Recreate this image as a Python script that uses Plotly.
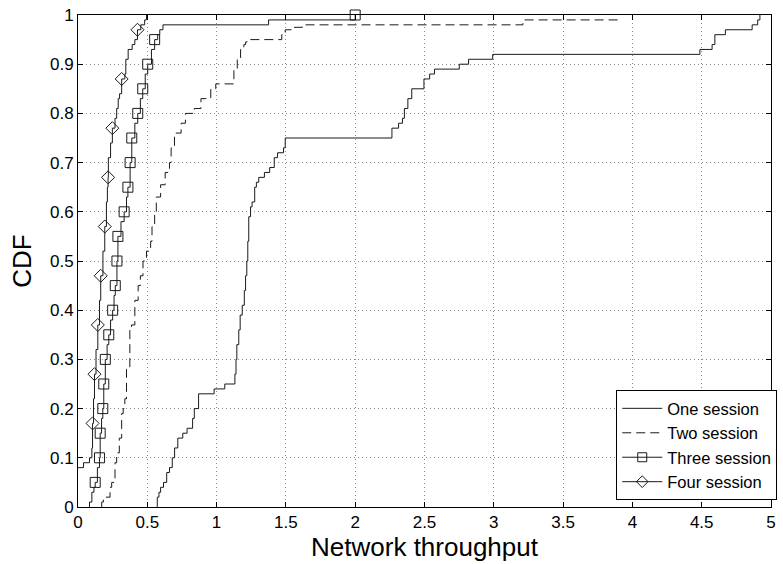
import plotly.graph_objects as go

# ---- data ----
one_x = [0.572, 0.572, 0.584, 0.596, 0.617, 0.64, 0.66, 0.68, 0.697, 0.72, 0.756, 0.787, 0.827, 0.839, 0.87,
         0.982, 1.059, 1.132, 1.14, 1.146, 1.16, 1.17, 1.185, 1.20, 1.209, 1.218, 1.225, 1.232, 1.245, 1.256,
         1.275, 1.287, 1.304, 1.345, 1.383, 1.416, 1.44, 1.483, 1.495, 2.265, 2.313, 2.341, 2.355, 2.38, 2.408,
         2.496, 2.537, 2.572, 2.751, 2.818, 2.992, 4.487, 4.575, 4.595, 4.671, 4.864, 4.904, 4.92]
one_y = [0, 0.02, 0.03, 0.04, 0.05, 0.07, 0.08, 0.10, 0.12, 0.14, 0.15, 0.16, 0.18, 0.20, 0.23,
         0.24, 0.25, 0.27, 0.30, 0.33, 0.36, 0.39, 0.41, 0.44, 0.47, 0.50, 0.54, 0.59, 0.61, 0.62,
         0.65, 0.66, 0.67, 0.68, 0.69, 0.71, 0.72, 0.73, 0.75, 0.77, 0.78, 0.79, 0.81, 0.83, 0.85,
         0.87, 0.88, 0.89, 0.90, 0.91, 0.92, 0.93, 0.94, 0.96, 0.97, 0.98, 0.99, 1.0]

two_x = [0.171, 0.171, 0.183, 0.231, 0.243, 0.267, 0.279, 0.298, 0.315, 0.326, 0.338, 0.35, 0.374, 0.386,
         0.41, 0.434, 0.45, 0.469, 0.494, 0.524, 0.534, 0.553, 0.565, 0.596, 0.629, 0.66, 0.672, 0.696,
         0.744, 0.775, 0.839, 0.887, 0.958, 0.994, 1.125, 1.149, 1.173, 1.197, 1.209, 1.22, 1.47, 1.495,
         1.542, 1.619, 3.21, 3.9]
two_y = [0, 0.01, 0.02, 0.04, 0.05, 0.09, 0.11, 0.14, 0.19, 0.20, 0.22, 0.28, 0.36, 0.37,
         0.42, 0.45, 0.47, 0.50, 0.52, 0.54, 0.57, 0.60, 0.63, 0.655, 0.68, 0.70, 0.73, 0.76,
         0.78, 0.80, 0.81, 0.83, 0.85, 0.86, 0.89, 0.91, 0.93, 0.94, 0.945, 0.95, 0.96, 0.97,
         0.975, 0.98, 0.99, 0.99]

three_x = [0.083, 0.083, 0.10, 0.115, 0.124, 0.14, 0.155, 0.16, 0.17, 0.179, 0.186, 0.197, 0.21, 0.222,
           0.235, 0.25, 0.26, 0.269, 0.281, 0.288, 0.31, 0.333, 0.35, 0.36, 0.376, 0.388, 0.41, 0.431,
           0.45, 0.467, 0.485, 0.503, 0.53, 0.553, 0.575, 0.59, 0.613, 1.375, 2.0]
three_y = [0, 0.01, 0.03, 0.04, 0.05, 0.08, 0.10, 0.15, 0.18, 0.20, 0.25, 0.30, 0.33, 0.35,
           0.38, 0.40, 0.43, 0.45, 0.50, 0.55, 0.58, 0.60, 0.63, 0.65, 0.70, 0.75, 0.78, 0.80,
           0.83, 0.85, 0.88, 0.90, 0.93, 0.95, 0.96, 0.97, 0.98, 0.99, 1.0]
three_mx = [0.124, 0.155, 0.16, 0.179, 0.186, 0.197, 0.222, 0.25, 0.269, 0.281, 0.288, 0.333, 0.36,
            0.376, 0.388, 0.431, 0.467, 0.503, 0.553, 2.0]
three_my = [0.05, 0.10, 0.15, 0.20, 0.25, 0.30, 0.35, 0.40, 0.45, 0.50, 0.55, 0.60, 0.65,
            0.70, 0.75, 0.80, 0.85, 0.90, 0.95, 1.0]

four_x = [0, 0.04, 0.083, 0.10, 0.105, 0.112, 0.119, 0.13, 0.143, 0.155, 0.164, 0.18, 0.193, 0.205,
          0.212, 0.217, 0.219, 0.235, 0.248, 0.267, 0.279, 0.29, 0.30, 0.315, 0.338, 0.345, 0.362,
          0.391, 0.41, 0.429, 0.453, 0.481, 0.494]
four_y = [0.08, 0.09, 0.10, 0.12, 0.17, 0.22, 0.27, 0.32, 0.37, 0.42, 0.47, 0.52, 0.57, 0.62,
          0.65, 0.67, 0.71, 0.74, 0.77, 0.79, 0.81, 0.83, 0.84, 0.87, 0.88, 0.91, 0.93,
          0.94, 0.95, 0.97, 0.98, 0.99, 1.0]
four_mx = [0.105, 0.119, 0.143, 0.164, 0.193, 0.217, 0.248, 0.315, 0.429]
four_my = [0.17, 0.27, 0.37, 0.47, 0.57, 0.67, 0.77, 0.87, 0.97]

names = ["One session", "Two session", "Three session", "Four session"]
x_ticks = [0, 0.5, 1, 1.5, 2, 2.5, 3, 3.5, 4, 4.5, 5]
x_tick_text = ["0", "0.5", "1", "1.5", "2", "2.5", "3", "3.5", "4", "4.5", "5"]
y_ticks = [0, 0.1, 0.2, 0.3, 0.4, 0.5, 0.6, 0.7, 0.8, 0.9, 1]
y_tick_text = ["0", "0.1", "0.2", "0.3", "0.4", "0.5", "0.6", "0.7", "0.8", "0.9", "1"]

LC = "#1a1a1a"
FONT = "Liberation Sans, Arial, sans-serif"
dash2 = "9px,5px"

fig = go.Figure()
# lines
for xs, ys, d in [(one_x, one_y, "solid"), (two_x, two_y, dash2),
                  (three_x, three_y, "solid"), (four_x, four_y, "solid")]:
    fig.add_trace(go.Scatter(x=xs, y=ys, mode="lines", line=dict(color=LC, width=1, shape="hv", dash=d),
                             showlegend=False, hoverinfo="skip", cliponaxis=False))
# markers
fig.add_trace(go.Scatter(x=three_mx, y=three_my, mode="markers", showlegend=False, cliponaxis=False,
                         marker=dict(symbol="square-open", size=10, color=LC, line=dict(width=1, color=LC))))
fig.add_trace(go.Scatter(x=four_mx, y=four_my, mode="markers", showlegend=False, cliponaxis=False,
                         marker=dict(symbol="diamond-open", size=10, color=LC, line=dict(width=1, color=LC))))
# legend entries
leg_styles = [("lines", "solid", None), ("lines", dash2, None),
              ("lines+markers", "solid", "square-open"), ("lines+markers", "solid", "diamond-open")]
for name, (mode, d, sym) in zip(names, leg_styles):
    kw = dict(x=[None], y=[None], mode=mode, name=name, line=dict(color=LC, width=1, dash=d))
    if sym:
        kw["marker"] = dict(symbol=sym, size=9, color=LC, line=dict(width=1, color=LC))
    fig.add_trace(go.Scatter(**kw))

axis_common = dict(showline=True, linecolor="black", linewidth=1, mirror="ticks",
                   ticks="inside", ticklen=5, tickcolor="black", tickwidth=1,
                   showgrid=True, gridcolor="#8a8a8a", gridwidth=1, griddash="1px,3px",
                   zeroline=False, tickfont=dict(family=FONT, size=17, color="black"))
fig.update_xaxes(range=[0, 5], tickmode="array", tickvals=x_ticks, ticktext=x_tick_text,
                 title=dict(text="Network throughput", font=dict(family=FONT, size=26, color="black"), standoff=0),
                 **axis_common)
fig.update_yaxes(range=[0, 1], tickmode="array", tickvals=y_ticks, ticktext=y_tick_text,
                 title=dict(text="CDF", font=dict(family=FONT, size=26, color="black"), standoff=10),
                 **axis_common)
fig.update_layout(
    width=783, height=564, margin=dict(l=78, r=6, t=13, b=57),
    plot_bgcolor="white", paper_bgcolor="white",
    legend=dict(x=1.009, y=0.014, xanchor="right", yanchor="bottom", bgcolor="white",
                bordercolor="black", borderwidth=1, font=dict(family=FONT, size=16.5, color="black"),
                tracegroupgap=0, itemwidth=40),
    font=dict(family=FONT),
)
fig.write_html("out.html")
